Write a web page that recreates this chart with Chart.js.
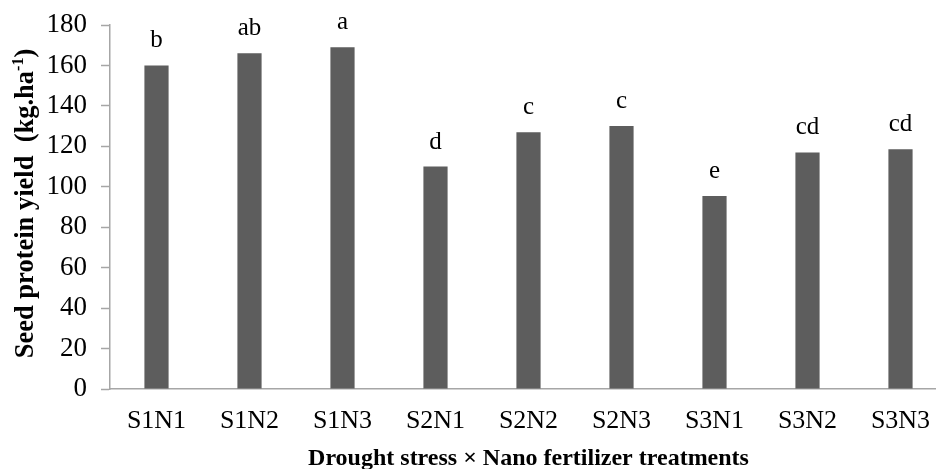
<!DOCTYPE html>
<html>
<head>
<meta charset="utf-8">
<script src="https://cdn.jsdelivr.net/npm/chart.js@4"></script>
<style>
  html, body { margin: 0; padding: 0; background: #fff; overflow: hidden; }
  #wrap { width: 936px; height: 469px; overflow: hidden; position: relative; }
  #c { display: block; }
</style>
</head>
<body>
<div id="wrap"><canvas id="c" width="948" height="469" style="width:948px;height:469px"></canvas></div>
<script>
const categories = ['S1N1', 'S1N2', 'S1N3', 'S2N1', 'S2N2', 'S2N3', 'S3N1', 'S3N2', 'S3N3'];
const proteinYield = [160, 166, 169, 110, 127, 130, 95.5, 117, 118.5];
const sigLetters = ['b', 'ab', 'a', 'd', 'c', 'c', 'e', 'cd', 'cd'];
const yTicks = [0, 20, 40, 60, 80, 100, 120, 140, 160, 180];
const yTitleMain = 'Seed protein yield  (kg.ha';
const yTitleSup = '-1';
const yTitleEnd = ')';
const xTitle = 'Drought stress \u00d7 Nano fertilizer treatments';

const SERIF = '"Liberation Serif", "Times New Roman", serif';

const overlay = {
  id: 'overlay',
  afterDatasetsDraw(chart) {
    const ctx = chart.ctx;
    const meta = chart.getDatasetMeta(0);
    ctx.save();
    // significance letters above bars
    ctx.fillStyle = '#000';
    ctx.font = '25px ' + SERIF;
    ctx.textAlign = 'center';
    ctx.textBaseline = 'alphabetic';
    meta.data.forEach((bar, i) => {
      ctx.fillText(sigLetters[i], bar.x, bar.y - 18);
    });
    // x-axis title
    const ca = chart.chartArea;
    ctx.font = 'bold 24px ' + SERIF;
    ctx.fillText(xTitle, (ca.left + ca.right) / 2, 465);
    // y-axis title (rotated, with superscript)
    const mainFont = 'bold 26.5px ' + SERIF;
    const supFont = 'bold 16px ' + SERIF;
    ctx.font = mainFont;
    const w1 = ctx.measureText(yTitleMain).width;
    const w3 = ctx.measureText(yTitleEnd).width;
    ctx.font = supFont;
    const w2 = ctx.measureText(yTitleSup).width;
    const total = w1 + w2 + w3;
    ctx.translate(33, 203.5);
    ctx.rotate(-Math.PI / 2);
    ctx.textAlign = 'left';
    const x0 = -total / 2;
    ctx.font = mainFont;
    ctx.fillText(yTitleMain, x0, 0);
    ctx.font = supFont;
    ctx.fillText(yTitleSup, x0 + w1, -10);
    ctx.font = mainFont;
    ctx.fillText(yTitleEnd, x0 + w1 + w2, 0);
    ctx.restore();
  }
};

new Chart(document.getElementById('c'), {
  type: 'bar',
  data: {
    labels: categories,
    datasets: [{
      data: proteinYield,
      backgroundColor: '#5d5d5d',
      borderWidth: 0,
      barPercentage: 0.26,
      categoryPercentage: 1.0
    }]
  },
  options: {
    responsive: false,
    devicePixelRatio: 1,
    animation: false,
    layout: { padding: { top: 25, right: 1, left: 0, bottom: 0 } },
    plugins: { legend: { display: false }, tooltip: { enabled: false } },
    scales: {
      x: {
        offset: true,
        grid: { display: true, drawOnChartArea: false, drawTicks: false },
        border: { display: true, color: '#a6a6a6', width: 1.5 },
        ticks: { color: '#000', font: { family: SERIF, size: 26 }, padding: 17, maxRotation: 0, autoSkip: false },
        afterFit(scale) { scale.height = 80; scale.paddingLeft = 0; scale.paddingRight = 0; }
      },
      y: {
        min: 0,
        max: 180,
        afterBuildTicks(scale) { scale.ticks = yTicks.map(v => ({ value: v })); },
        grid: { display: true, drawOnChartArea: false, drawTicks: true, tickLength: 9, color: '#a6a6a6', tickColor: '#a6a6a6', tickWidth: 1.5 },
        border: { display: true, color: '#a6a6a6', width: 1.5 },
        ticks: { color: '#000', font: { family: SERIF, size: 27 }, padding: 14 },
        afterFit(scale) { scale.width = 110; scale.paddingTop = 0; scale.paddingBottom = 0; }
      }
    }
  },
  plugins: [overlay]
});
</script>
</body>
</html>
